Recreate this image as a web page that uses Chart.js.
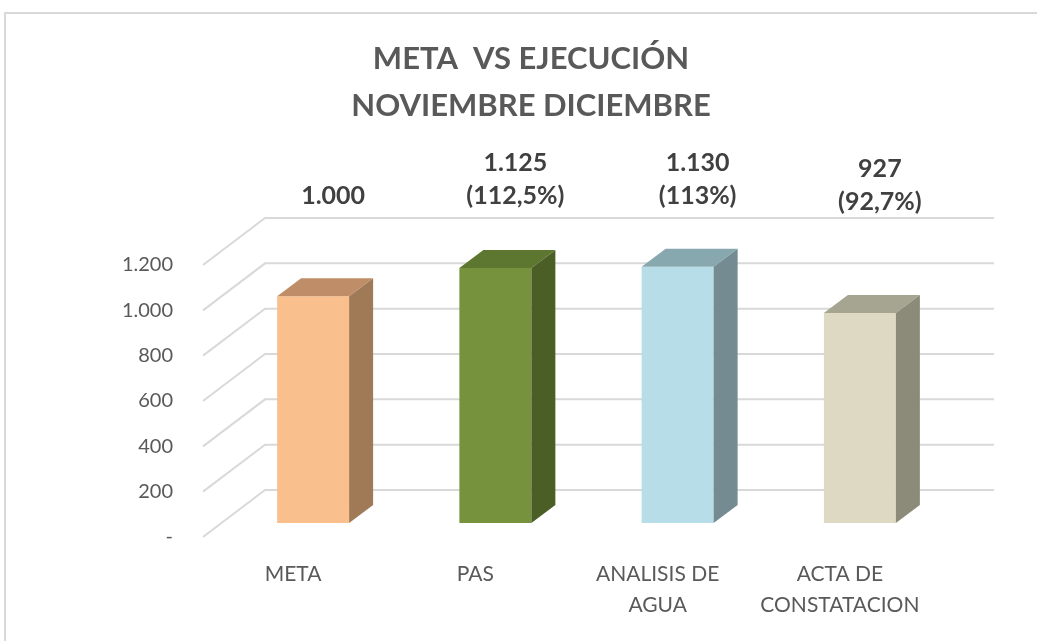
<!DOCTYPE html>
<html>
<head>
<meta charset="utf-8">
<script src="https://cdn.jsdelivr.net/npm/chart.js@4.4.1/dist/chart.umd.min.js"></script>
<style>
html,body{margin:0;padding:0;background:#ffffff;}
#wrap{width:1037px;height:641px;}
</style>
</head>
<body>
<div id="wrap"><canvas id="c" width="1037" height="641"></canvas></div>
<script>
// ---- data ----
const categories = [['META'], ['PAS'], ['ANALISIS DE', 'AGUA'], ['ACTA DE', 'CONSTATACION']];
const values = [1000, 1125, 1130, 927];
const valueLabels = [['1.000'], ['1.125', '(112,5%)'], ['1.130', '(113%)'], ['927', '(92,7%)']];
const yTickLabels = ['-', '200', '400', '600', '800', '1.000', '1.200'];
const titleLines = ['META  VS EJECUCIÓN', 'NOVIEMBRE DICIEMBRE'];

// ---- styles ----
const frontColors = ['#F9C08E', '#77923C', '#B7DEE8', '#DDD9C3'];
const topColors = ['#BF8E69', '#5D7630', '#88A8B0', '#A6A591'];
const sideColors = ['#A07A57', '#4B5E26', '#758B92', '#8C8A79'];
const labelNudgeY = [0, 0, 0, 6];
const depth = { barDx: 24, barDy: 18, wallDx: 43, wallDy: 33, frontDx: -19, frontDy: 14 };
const gridColor = '#D9D9D9';

const threeD = {
  id: 'threeD',
  beforeDraw(chart) {
    const ctx = chart.ctx;
    ctx.save();
    ctx.strokeStyle = '#D9D9D9';
    ctx.lineWidth = 2;
    ctx.beginPath();
    ctx.moveTo(5, 700);
    ctx.lineTo(5, 13);
    ctx.lineTo(1100, 13);
    ctx.stroke();
    ctx.restore();
  },
  beforeDatasetsDraw(chart) {
    const { ctx, chartArea: a, scales: { y } } = chart;
    ctx.save();
    ctx.strokeStyle = gridColor;
    ctx.lineWidth = 2;
    y.ticks.forEach(t => {
      const py = y.getPixelForValue(t.value);
      ctx.beginPath();
      ctx.moveTo(a.left + depth.frontDx, py + depth.frontDy);
      ctx.lineTo(a.left + depth.wallDx, py - depth.wallDy);
      ctx.lineTo(a.right + depth.wallDx, py - depth.wallDy);
      ctx.stroke();
    });
    ctx.restore();
  },
  afterDatasetsDraw(chart) {
    const { ctx, chartArea: a } = chart;
    const meta = chart.getDatasetMeta(0);
    ctx.save();
    meta.data.forEach((el, i) => {
      const p = el.getProps(['x', 'y', 'base', 'width'], true);
      const L = p.x - p.width / 2, R = p.x + p.width / 2;
      const dx = depth.barDx, dy = depth.barDy;
      ctx.fillStyle = topColors[i];
      ctx.beginPath();
      ctx.moveTo(L, p.y);
      ctx.lineTo(L + dx, p.y - dy);
      ctx.lineTo(R + dx, p.y - dy);
      ctx.lineTo(R, p.y);
      ctx.closePath();
      ctx.fill();
      ctx.fillStyle = sideColors[i];
      ctx.beginPath();
      ctx.moveTo(R, p.y);
      ctx.lineTo(R + dx, p.y - dy);
      ctx.lineTo(R + dx, p.base - dy);
      ctx.lineTo(R, p.base);
      ctx.closePath();
      ctx.fill();
    });
    // value labels
    ctx.fillStyle = '#404040';
    ctx.font = 'bold 25px Lato';
    ctx.textAlign = 'center';
    ctx.textBaseline = 'middle';
    meta.data.forEach((el, i) => {
      const lines = valueLabels[i];
      const lastY = a.top - 55 + labelNudgeY[i];
      lines.forEach((ln, k) => {
        ctx.fillText(ln, el.x + 20, lastY - (lines.length - 1 - k) * 33);
      });
    });
    ctx.restore();
  }
};

new Chart(document.getElementById('c'), {
  type: 'bar',
  data: {
    labels: categories,
    datasets: [{
      data: values,
      backgroundColor: frontColors,
      borderWidth: 0,
      barPercentage: 0.395,
      categoryPercentage: 1
    }]
  },
  options: {
    responsive: false,
    animation: false,
    devicePixelRatio: 1,
    layout: { padding: { left: 111, right: 86, top: 0, bottom: 0 } },
    plugins: {
      legend: { display: false },
      tooltip: { enabled: false },
      title: {
        display: true,
        text: titleLines,
        color: '#595959',
        font: { family: 'Lato', size: 31, weight: 'bold', lineHeight: 1.5 },
        padding: { top: 36, bottom: 122 }
      }
    },
    scales: {
      x: {
        grid: { display: false },
        border: { display: false },
        ticks: {
          color: '#595959',
          font: { family: 'Lato', size: 21, lineHeight: 1.48 },
          padding: 28,
          labelOffset: -20,
          maxRotation: 0,
          autoSkip: false
        },
        afterFit(s) { s.height = 118; }
      },
      y: {
        min: 0,
        max: 1200,
        grid: { display: false },
        border: { display: false },
        ticks: {
          stepSize: 200,
          color: '#595959',
          font: { family: 'Lato', size: 20 },
          padding: 41,
          labelOffset: 14,
          callback: (v, i) => yTickLabels[i]
        },
        afterFit(s) { s.width = 111; }
      }
    }
  },
  plugins: [threeD]
});
</script>
</body>
</html>
